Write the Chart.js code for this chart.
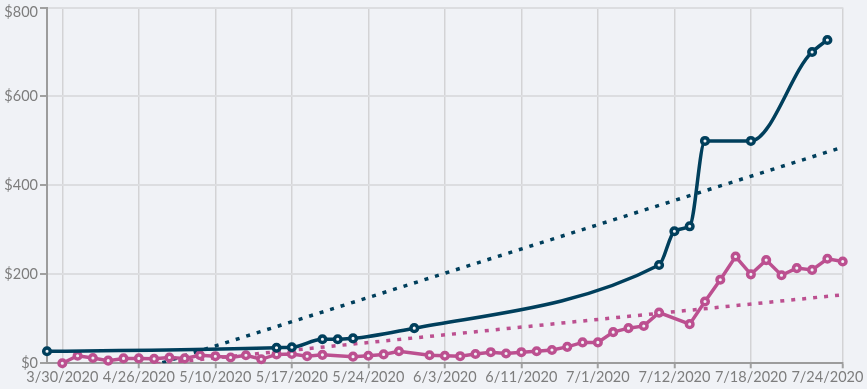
<!DOCTYPE html>
<html>
<head>
<meta charset="utf-8">
<script src="https://cdn.jsdelivr.net/npm/chart.js@4.4.1/dist/chart.umd.min.js"></script>
<style>
  html, body { margin: 0; padding: 0; background: #f0f2f6; }
  #wrap { width: 867px; height: 389px; }
</style>
</head>
<body>
<div id="wrap"><canvas id="c" width="867" height="389"></canvas></div>
<script>
// Categories (dates); only the labelled ones are readable in the reference
const categories = [
  '', '3/30/2020', '', '', '',
  '', '4/26/2020', '', '', '',
  '', '5/10/2020', '', '', '',
  '', '5/17/2020', '', '', '',
  '', '5/24/2020', '', '', '',
  '', '6/3/2020', '', '', '',
  '', '6/11/2020', '', '', '',
  '', '7/1/2020', '', '', '',
  '', '7/12/2020', '', '', '',
  '', '7/18/2020', '', '', '',
  '', '', '7/24/2020'
];

// Navy series (dollars)
const navySeries = [
  27, null, null, null, null,
  null, null, null, null, null,
  null, null, null, null, null,
  35, 36, null, 54, 54,
  56, null, null, null, 79,
  null, null, null, null, null,
  null, null, null, null, null,
  null, null, null, null, null,
  221, 297, 308, 500, null,
  null, 500, null, null, null,
  700, 727, null
];

// Pink series (dollars)
const pinkSeries = [
  null, 0, 17, 12, 6,
  11, 11, 10, 13, 11,
  18, 16, 13, 18, 9,
  20, 21, 16, 19, null,
  15, 17, 20, 27, null,
  18, 17, 16, 21, 25,
  22, 25, 27, 30, 37,
  47, 47, 70, 79, 84,
  114, null, 88, 139, 188,
  240, 200, 232, 198, 214,
  210, 235, 229
];

// Trend lines: value at first and last category
const navyTrend = [-81, 486];
const pinkTrend = [-26, 154];

// Y axis ticks
const yTickValues = [0, 200, 400, 600, 800];

const NAVY = '#003f5c';
const PINK = '#bc5090';
const BG = '#f0f2f6';
const LAST = categories.length - 1;

function trendData(t) {
  return categories.map((_, i) => (i === 0 ? t[0] : (i === LAST ? t[1] : null)));
}

function isGridIndex(i) {
  return (i >= 1 && i <= LAST - 1 && (i - 1) % 5 === 0 && categories[i] !== '') || i === LAST;
}

// Monotone-X curve (Steffen-style tangents) for datasets flagged with monotoneX
const monotoneXPlugin = {
  id: 'monotoneX',
  beforeDatasetDraw(chart, args) {
    const ds = chart.data.datasets[args.index];
    if (!ds.monotoneX) return;
    const meta = args.meta;
    const pts = meta.data.filter((p) => !p.skip);
    const n = pts.length;
    if (n < 2) return;
    const sign = (v) => (v < 0 ? -1 : 1);
    const h = [], s = [];
    for (let i = 0; i < n - 1; i++) {
      h[i] = pts[i + 1].x - pts[i].x;
      s[i] = h[i] ? (pts[i + 1].y - pts[i].y) / h[i] : 0;
    }
    const t = new Array(n);
    for (let i = 1; i < n - 1; i++) {
      const h0 = h[i - 1], h1 = h[i], s0 = s[i - 1], s1 = s[i];
      const p = (s0 * h1 + s1 * h0) / (h0 + h1);
      t[i] = (sign(s0) + sign(s1)) * Math.min(Math.abs(s0), Math.abs(s1), 0.5 * Math.abs(p)) || 0;
    }
    if (n === 2) {
      t[0] = t[1] = s[0];
    } else {
      t[0] = h[0] ? (3 * s[0] - t[1]) / 2 : t[1];
      t[n - 1] = h[n - 2] ? (3 * s[n - 2] - t[n - 2]) / 2 : t[n - 2];
    }
    for (let i = 0; i < n; i++) {
      const p = pts[i];
      const hb = i > 0 ? h[i - 1] / 3 : 0;
      const ha = i < n - 1 ? h[i] / 3 : 0;
      p.cp1x = p.x - hb; p.cp1y = p.y - t[i] * hb;
      p.cp2x = p.x + ha; p.cp2y = p.y + t[i] * ha;
    }
    meta.dataset._pointsUpdated = true;
  }
};

Chart.defaults.font.family = 'Lato';

new Chart(document.getElementById('c'), {
  type: 'line',
  plugins: [monotoneXPlugin],
  data: {
    labels: categories,
    datasets: [
      {
        data: navySeries,
        monotoneX: true,
        borderColor: NAVY,
        backgroundColor: BG,
        borderWidth: 3.5,
        pointRadius: 3.3,
        pointBorderWidth: 3.5,
        pointBackgroundColor: BG,
        pointBorderColor: NAVY,
        spanGaps: true,
        tension: 0.4,
        cubicInterpolationMode: 'monotone',
        clip: false,
        fill: false
      },
      {
        data: pinkSeries,
        borderColor: PINK,
        backgroundColor: BG,
        borderWidth: 3.5,
        pointRadius: 3.3,
        pointBorderWidth: 3.5,
        pointBackgroundColor: BG,
        pointBorderColor: PINK,
        spanGaps: true,
        tension: 0,
        clip: false,
        fill: false
      },
      {
        data: trendData(navyTrend),
        borderColor: NAVY,
        borderWidth: 3.5,
        borderDash: [4, 7],
        pointRadius: 0,
        spanGaps: true,
        tension: 0,
        fill: false
      },
      {
        data: trendData(pinkTrend),
        borderColor: PINK,
        borderWidth: 3.5,
        borderDash: [4, 7],
        pointRadius: 0,
        spanGaps: true,
        tension: 0,
        fill: false
      }
    ]
  },
  options: {
    responsive: false,
    animation: false,
    events: [],
    layout: { padding: { top: 4, right: 24.3, left: 0, bottom: 0 } },
    plugins: { legend: { display: false }, tooltip: { enabled: false } },
    scales: {
      x: {
        type: 'category',
        offset: false,
        border: { display: true, color: '#9c9c9c', width: 2 },
        grid: {
          drawOnChartArea: true,
          drawTicks: true,
          tickLength: 5,
          color: (ctx) => isGridIndex(ctx.index) ? '#d3d3d5' : 'rgba(0,0,0,0)',
          lineWidth: 1.5,
          tickColor: (ctx) => isGridIndex(ctx.index) ? '#a0a0a0' : 'rgba(0,0,0,0)',
          tickWidth: 2
        },
        ticks: {
          autoSkip: false,
          maxRotation: 0,
          minRotation: 0,
          padding: 0,
          color: '#7d7d7d',
          font: { family: 'Lato', size: 14.5 },
          // the last date label sits a little left of its tick so it fits in the canvas
          callback: (v, i) => (i === LAST ? '' : (i === LAST - 1 ? categories[LAST] : categories[i]))
        },
        afterFit: (scale) => {
          scale.height = 25.7;
          scale.paddingLeft = 0;
          scale.paddingRight = 0;
        }
      },
      y: {
        min: 0,
        max: 800,
        border: { display: true, color: '#9c9c9c', width: 2 },
        grid: {
          color: '#dcdde0',
          lineWidth: 2,
          drawTicks: true,
          tickLength: 7,
          tickColor: '#a0a0a0',
          tickWidth: 2
        },
        afterBuildTicks: (scale) => {
          scale.ticks = yTickValues.map((v) => ({ value: v }));
        },
        ticks: {
          padding: 2,
          color: '#7d7d7d',
          font: (ctx) => (ctx.tick && ctx.tick.value === 800)
            ? { family: 'Lato', size: 14.5, lineHeight: '10px' }
            : { family: 'Lato', size: 14.5 },
          callback: (v) => (v === 800 ? ['', '$' + v] : '$' + v)
        },
        afterFit: (scale) => {
          scale.width = 47;
          scale.paddingTop = 0;
          scale.paddingBottom = 0;
        }
      }
    }
  }
});
</script>
</body>
</html>
